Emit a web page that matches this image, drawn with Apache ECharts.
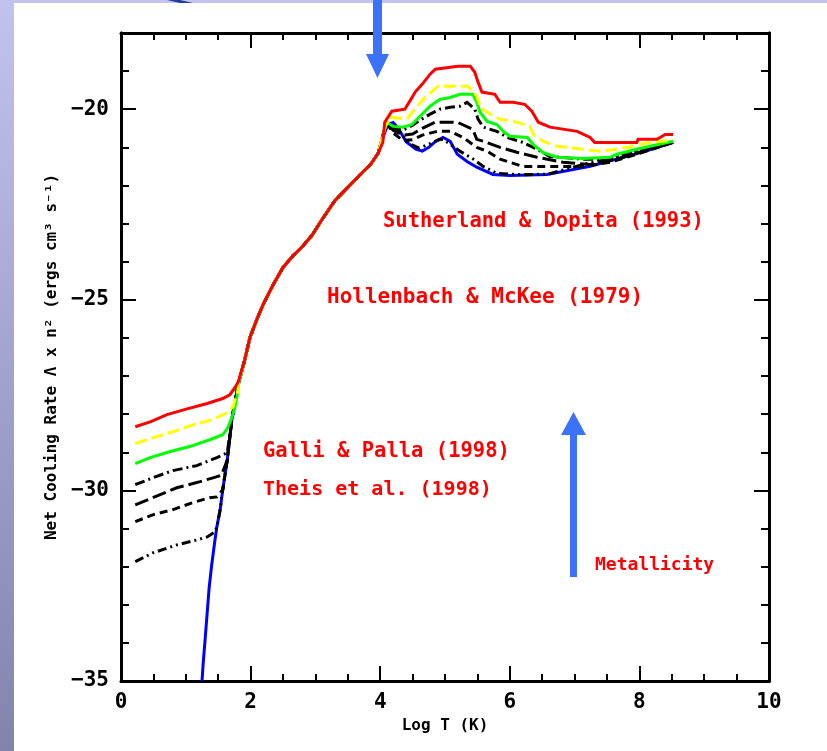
<!DOCTYPE html>
<html>
<head>
<meta charset="utf-8">
<script src="https://cdn.jsdelivr.net/npm/echarts@6.0.0/dist/echarts.min.js"></script>
<style>
  html, body { margin: 0; padding: 0; background: #ffffff; }
  #chart { width: 827px; height: 751px; }
</style>
</head>
<body>
<div id="chart"></div>
<script>
// Cooling curves: [log T (K), log net cooling rate]
// Low-temperature branches, one per metallicity (highest first)
const redLow = [[0.22,-28.33],[0.45,-28.20],[0.71,-28.01],[1.02,-27.86],[1.33,-27.72],[1.57,-27.59],[1.68,-27.49],[1.76,-27.30],[1.81,-27.15]];
const yellowLow = [[0.22,-28.77],[0.49,-28.62],[0.80,-28.46],[1.11,-28.28],[1.42,-28.14],[1.64,-27.96],[1.73,-27.80],[1.76,-27.62],[1.81,-27.36]];
const greenLow = [[0.22,-29.30],[0.45,-29.14],[0.76,-28.98],[1.06,-28.85],[1.37,-28.67],[1.57,-28.54],[1.65,-28.35],[1.71,-28.09],[1.76,-27.80],[1.79,-27.54]];
const black1Low = [[0.22,-29.85],[0.49,-29.67],[0.80,-29.48],[1.17,-29.35],[1.48,-29.14],[1.64,-29.01]];
const black2Low = [[0.22,-30.38],[0.49,-30.19],[0.86,-29.93],[1.22,-29.77],[1.42,-29.67],[1.55,-29.60]];
const black3Low = [[0.22,-30.82],[0.49,-30.64],[0.79,-30.51],[1.11,-30.32],[1.37,-30.19],[1.48,-30.17]];
const black4Low = [[0.22,-31.87],[0.49,-31.64],[0.86,-31.43],[1.17,-31.30],[1.33,-31.22],[1.45,-31.09]];

// Steep rise shared by all curves (zero-metal curve follows it from the bottom)
const steepRise = [[1.25,-35.0],[1.27,-34.50],[1.30,-33.87],[1.33,-33.21],[1.36,-32.56],[1.40,-31.95],[1.45,-31.30],[1.48,-30.95],[1.53,-30.51],[1.57,-29.98],[1.64,-29.20],[1.71,-28.14],[1.81,-27.22],[1.91,-26.57],[1.99,-25.99]];
// Common section between 10^2 and 10^4 K
const sharedMid = [[2.10,-25.50],[2.20,-25.10],[2.35,-24.60],[2.50,-24.15],[2.65,-23.85],[2.80,-23.60],[2.95,-23.30],[3.10,-22.90],[3.30,-22.40],[3.50,-22.05],[3.70,-21.70],[3.85,-21.45],[3.97,-21.15]];

// High-temperature branches
const redHigh = [[4.04,-20.87],[4.07,-20.34],[4.18,-20.05],[4.38,-20.00],[4.46,-19.78],[4.54,-19.55],[4.65,-19.34],[4.77,-19.08],[4.85,-18.95],[5.20,-18.87],[5.39,-18.87],[5.46,-19.03],[5.51,-19.29],[5.57,-19.55],[5.77,-19.61],[5.85,-19.82],[6.05,-19.82],[6.23,-19.87],[6.34,-20.05],[6.44,-20.34],[6.62,-20.47],[7.04,-20.58],[7.24,-20.74],[7.31,-20.87],[7.96,-20.87],[7.98,-20.79],[8.27,-20.79],[8.40,-20.66],[8.52,-20.66]];
const yellowHigh = [[4.08,-20.45],[4.15,-20.21],[4.41,-20.26],[4.57,-19.92],[4.69,-19.69],[4.80,-19.53],[4.89,-19.40],[5.35,-19.40],[5.43,-19.53],[5.49,-19.66],[5.54,-19.92],[5.65,-20.08],[5.85,-20.26],[6.11,-20.34],[6.31,-20.45],[6.36,-20.66],[6.51,-20.84],[6.73,-20.97],[7.13,-21.05],[7.39,-21.10],[7.65,-21.05],[7.90,-20.97],[8.16,-20.87],[8.47,-20.82]];
const greenHigh = [[4.04,-20.70],[4.10,-20.34],[4.20,-20.45],[4.35,-20.47],[4.49,-20.40],[4.61,-20.19],[4.77,-19.92],[4.92,-19.74],[5.08,-19.69],[5.23,-19.61],[5.43,-19.61],[5.49,-19.82],[5.54,-20.08],[5.65,-20.32],[5.80,-20.40],[5.90,-20.58],[6.00,-20.71],[6.27,-20.74],[6.36,-20.92],[6.51,-21.13],[6.73,-21.26],[7.13,-21.29],[7.55,-21.26],[7.65,-21.18],[7.96,-21.05],[8.16,-20.97],[8.52,-20.84]];
const black1High = [[4.04,-20.70],[4.10,-20.35],[4.20,-20.48],[4.35,-20.55],[4.50,-20.42],[4.62,-20.28],[4.77,-20.13],[4.92,-20.00],[5.08,-19.95],[5.23,-19.92],[5.34,-19.82],[5.46,-20.00],[5.51,-20.26],[5.59,-20.47],[5.80,-20.58],[5.96,-20.74],[6.20,-20.87],[6.42,-21.05],[6.62,-21.24],[7.13,-21.31],[7.55,-21.31],[7.81,-21.18],[8.16,-21.00],[8.52,-20.87]];
const black2High = [[4.04,-20.70],[4.10,-20.36],[4.20,-20.55],[4.35,-20.68],[4.50,-20.65],[4.65,-20.50],[4.85,-20.34],[5.19,-20.34],[5.43,-20.53],[5.49,-20.79],[5.59,-20.84],[5.85,-21.00],[6.11,-21.13],[6.42,-21.26],[6.82,-21.39],[7.24,-21.45],[7.65,-21.31],[8.06,-21.10],[8.52,-20.87]];
const black3High = [[4.04,-20.70],[4.10,-20.37],[4.20,-20.62],[4.35,-20.82],[4.50,-20.80],[4.65,-20.68],[4.88,-20.58],[5.08,-20.58],[5.28,-20.74],[5.49,-21.00],[5.65,-21.10],[5.85,-21.31],[6.20,-21.50],[6.62,-21.50],[7.13,-21.50],[7.55,-21.39],[7.96,-21.18],[8.52,-20.87]];
const black4High = [[4.04,-20.70],[4.10,-20.38],[4.20,-20.40],[4.30,-20.60],[4.45,-20.90],[4.60,-21.02],[4.75,-20.92],[4.90,-20.80],[4.97,-20.79],[5.23,-21.10],[5.43,-21.30],[5.59,-21.50],[5.80,-21.68],[6.20,-21.72],[6.60,-21.70],[7.13,-21.45],[7.60,-21.28],[8.00,-21.08],[8.52,-20.87]];
const blueHigh = [[4.05,-20.70],[4.12,-20.40],[4.20,-20.35],[4.28,-20.50],[4.40,-20.85],[4.55,-21.05],[4.65,-21.10],[4.75,-21.00],[4.85,-20.85],[4.97,-20.74],[5.08,-20.84],[5.19,-21.18],[5.34,-21.37],[5.49,-21.52],[5.74,-21.71],[6.00,-21.74],[6.57,-21.71],[7.24,-21.50],[7.75,-21.26],[8.10,-21.10],[8.52,-20.87]];

// Axis ranges
const xRange = [0, 10];
const yRange = [-35, -18];

const annotations = [
  { text: 'Sutherland & Dopita (1993)', x: 383, y: 222, size: 20.5 },
  { text: 'Hollenbach & McKee (1979)', x: 327, y: 298, size: 21 },
  { text: 'Galli & Palla (1998)', x: 263, y: 452, size: 20.5 },
  { text: 'Theis et al. (1998)', x: 263, y: 490, size: 20 },
  { text: 'Metallicity', x: 595, y: 565, size: 18 }
];

// A full curve: its own low branch, the part of the shared rise above it,
// the common middle section and its own high-temperature branch.
function assemble(low, high) {
  const lastY = low[low.length - 1][1];
  const rise = steepRise.filter(p => p[1] > lastY);
  return low.concat(rise, sharedMid, high);
}

const mono = '"DejaVu Sans Mono", "Liberation Mono", monospace';

function line(name, data, color, dash) {
  return {
    name: name,
    type: 'line',
    data: data,
    showSymbol: false,
    symbol: 'none',
    clip: true,
    lineStyle: { color: color, width: 3, type: dash || 'solid', join: 'miter' },
    emphasis: { disabled: true },
    animation: false
  };
}

const series = [
  line('Z = 0', steepRise.concat(sharedMid, blueHigh), '#0000ff'),
  line('black4', assemble(black4Low, black4High), '#000000', [9, 4, 2, 4, 2, 4]),
  line('black3', assemble(black3Low, black3High), '#000000', [8, 5]),
  line('black2', assemble(black2Low, black2High), '#000000', [14, 5]),
  line('black1', assemble(black1Low, black1High), '#000000', [10, 4, 2, 4]),
  line('green', assemble(greenLow, greenHigh), '#00ff00'),
  line('yellow', assemble(yellowLow, yellowHigh), '#ffff00', [12, 5]),
  line('red', assemble(redLow, redHigh), '#ff0000')
];

const axisLineStyle = { show: true, onZero: false, lineStyle: { color: '#000', width: 3 } };

const xBase = {
  type: 'value', min: xRange[0], max: xRange[1], interval: 2,
  axisLine: axisLineStyle,
  axisTick: { show: true, inside: true, length: 15, lineStyle: { color: '#000', width: 2 } },
  minorTick: { show: true, splitNumber: 4, length: 7, lineStyle: { color: '#000', width: 2 } },
  splitLine: { show: false }, minorSplitLine: { show: false }
};

function yAxis(position, interval, tickLen, labels, name) {
  return {
    type: 'value', position: position, min: yRange[0], max: yRange[1], interval: interval,
    axisLine: axisLineStyle,
    axisTick: { show: true, inside: true, length: tickLen, lineStyle: { color: '#000', width: 2 } },
    splitLine: { show: false },
    axisLabel: labels ? {
      show: true, margin: 12, color: '#000', fontFamily: mono, fontWeight: 'bold', fontSize: 21,
      formatter: v => (v % 5 === 0 ? '\u2212' + Math.abs(v) : '')
    } : { show: false },
    name: name || '',
    nameLocation: 'middle',
    nameRotate: 90,
    nameGap: 60,
    nameTextStyle: { color: '#000', fontFamily: mono, fontWeight: 'bold', fontSize: 16 }
  };
}

const chart = echarts.init(document.getElementById('chart'), null, { renderer: 'canvas' });

chart.setOption({
  backgroundColor: '#ffffff',
  animation: false,
  grid: { left: 121, right: 58, top: 33, bottom: 70, containLabel: false, outerBoundsMode: 'none' },
  xAxis: [
    Object.assign({}, xBase, {
      position: 'bottom',
      axisLabel: { show: true, margin: 11, color: '#000', fontFamily: mono, fontWeight: 'bold', fontSize: 21 },
      name: 'Log T (K)', nameLocation: 'middle', nameGap: 35,
      nameTextStyle: { color: '#000', fontFamily: mono, fontWeight: 'bold', fontSize: 16 }
    }),
    Object.assign({}, xBase, { position: 'top', axisLabel: { show: false } })
  ],
  yAxis: [
    yAxis('left', 1, 8, false),
    yAxis('left', 5, 15, true, 'Net Cooling Rate \u039b x n\u00b2 (ergs cm\u00b3 s\u207b\u00b9)'),
    yAxis('right', 1, 8, false),
    yAxis('right', 5, 15, false)
  ],
  series: series,
  graphic: [
    // slide frame along the top and left edges
    { type: 'rect', shape: { x: 0, y: 0, width: 827, height: 3 }, style: { fill: '#c3c3ee' }, silent: true },
    {
      type: 'rect', shape: { x: 0, y: 0, width: 14, height: 751 }, silent: true,
      style: { fill: new echarts.graphic.LinearGradient(0, 0, 0, 1, [
        { offset: 0, color: '#c2c2ee' }, { offset: 1, color: '#8284ac' }
      ]) }
    },
    { type: 'polygon', shape: { points: [[167, 0], [180, 0], [193, 3], [180, 3]] }, style: { fill: '#1f3c9c' }, silent: true },
    // arrows
    {
      type: 'polygon', z: 100, silent: true,
      shape: { points: [[373, 0], [382, 0], [382, 54], [389, 54], [377.5, 78], [366, 54], [373, 54]] },
      style: { fill: '#3a72f8' }
    },
    {
      type: 'polygon', z: 100, silent: true,
      shape: { points: [[570, 577], [577, 577], [577, 435], [586, 435], [573.5, 412], [561, 435], [570, 435]] },
      style: { fill: '#3a72f8' }
    }
  ].concat(annotations.map(a => ({
    type: 'text', z: 100, silent: true,
    style: {
      text: a.text, x: a.x, y: a.y, fill: '#ff0000',
      font: 'bold ' + a.size + 'px ' + mono, verticalAlign: 'middle', align: 'left'
    }
  })))
});
</script>
</body>
</html>
